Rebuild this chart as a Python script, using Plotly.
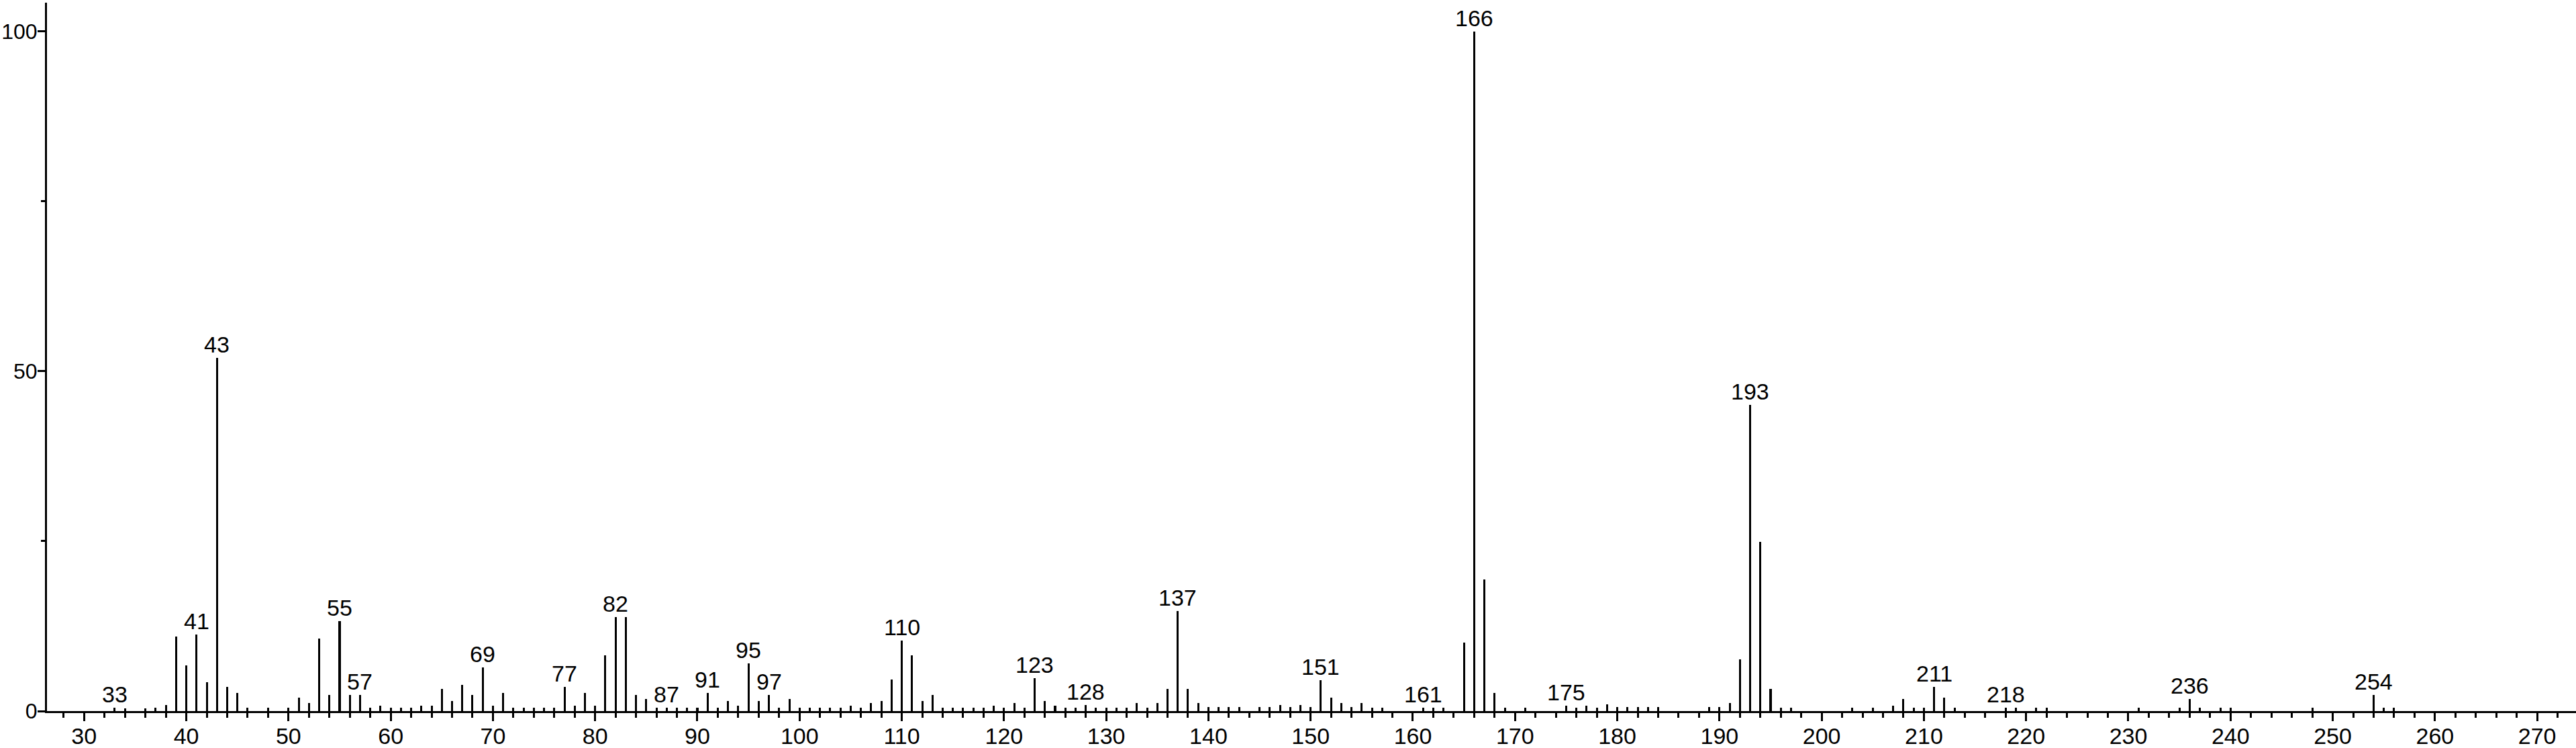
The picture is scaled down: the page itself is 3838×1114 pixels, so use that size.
import plotly.graph_objects as go

# m/z values and relative intensities (% of base peak 166)
mz = [
    33, 34, 36, 37, 38, 39, 40, 41, 42, 43, 44, 45, 46, 48, 50, 51, 52, 53, 54, 55,
    56, 57, 58, 59, 60, 61, 62, 63, 64, 65, 66, 67, 68, 69, 70, 71, 72, 73, 74, 75,
    76, 77, 78, 79, 80, 81, 82, 83, 84, 85, 86, 87, 88, 89, 90, 91, 92, 93, 94, 95,
    96, 97, 98, 99, 100, 101, 102, 103, 104, 105, 106, 107, 108, 109, 110, 111, 112, 113, 114, 115,
    116, 117, 118, 119, 120, 121, 122, 123, 124, 125, 126, 127, 128, 129, 130, 131, 132, 133, 134, 135,
    136, 137, 138, 139, 140, 141, 142, 143, 145, 146, 147, 148, 149, 150, 151, 152, 153, 154, 155, 156,
    157, 161, 162, 163, 165, 166, 167, 168, 169, 171, 175, 176, 177, 178, 179, 180, 181, 182, 183, 184,
    189, 190, 191, 192, 193, 194, 195, 196, 197, 203, 205, 207, 208, 209, 210, 211, 212, 213, 218, 219,
    221, 222, 231, 235, 236, 237, 239, 240, 248, 254, 255, 256,
]
intensity = [
    0.5, 0.4, 0.4, 0.5, 0.9, 11.0, 6.7, 11.3, 4.2, 52.0, 3.6, 2.7, 0.5, 0.5, 0.5, 2.0, 1.2, 10.7, 2.4, 13.2,
    2.4, 2.4, 0.5, 0.8, 0.5, 0.5, 0.5, 0.8, 0.8, 3.3, 1.5, 3.9, 2.4, 6.4, 0.8, 2.7, 0.5, 0.5, 0.5, 0.5,
    0.5, 3.6, 0.8, 2.7, 0.8, 8.2, 13.8, 13.8, 2.4, 1.8, 0.5, 0.5, 0.5, 0.5, 0.5, 2.7, 0.5, 1.5, 0.8, 7.0,
    1.5, 2.4, 0.5, 1.8, 0.5, 0.5, 0.5, 0.5, 0.5, 0.8, 0.5, 1.2, 1.5, 4.6, 10.4, 8.2, 1.5, 2.4, 0.5, 0.5,
    0.5, 0.5, 0.5, 0.8, 0.5, 1.2, 0.5, 4.8, 1.5, 0.8, 0.5, 0.5, 0.9, 0.5, 0.5, 0.5, 0.5, 1.2, 0.5, 1.2,
    3.3, 14.7, 3.3, 1.2, 0.6, 0.6, 0.6, 0.6, 0.6, 0.6, 0.9, 0.6, 0.9, 0.6, 4.5, 2.0, 1.2, 0.6, 1.2, 0.5,
    0.5, 0.5, 0.5, 0.5, 10.1, 100.0, 19.4, 2.7, 0.5, 0.5, 0.8, 0.5, 0.8, 0.5, 1.0, 0.6, 0.6, 0.6, 0.6, 0.6,
    0.6, 0.6, 1.2, 7.6, 45.0, 24.9, 3.3, 0.5, 0.5, 0.5, 0.5, 0.8, 1.8, 0.5, 0.5, 3.6, 2.0, 0.5, 0.5, 0.5,
    0.5, 0.5, 0.5, 0.5, 1.8, 0.5, 0.5, 0.5, 0.5, 2.4, 0.5, 0.5,
]

# peaks that carry an m/z label
labeled_peaks = [33, 41, 43, 55, 57, 69, 77, 82, 87, 91, 95, 97, 110, 123, 128,
                 137, 151, 161, 166, 175, 193, 211, 218, 236, 254]

x_ticks = list(range(30, 271, 10))
y_ticks = [0, 50, 100]

FONT = "Liberation Sans, Arial, Helvetica, sans-serif"

fig = go.Figure(go.Bar(
    x=mz,
    y=intensity,
    width=0.2,
    marker=dict(color="black", line=dict(width=0)),
    hoverinfo="x+y",
))

lookup = dict(zip(mz, intensity))
for m in labeled_peaks:
    fig.add_annotation(
        x=m, y=lookup[m], text=str(m),
        showarrow=False, yanchor="bottom", xanchor="center",
        font=dict(family=FONT, size=34, color="black"),
        yshift=-1,
    )

fig.update_layout(
    width=3838,
    height=1114,
    margin=dict(l=70, r=0, t=4, b=55, autoexpand=False),
    paper_bgcolor="white",
    plot_bgcolor="white",
    showlegend=False,
    bargap=0,
    font=dict(family=FONT, size=34, color="black"),
)

fig.update_xaxes(
    range=[26.37, 273.8],
    tickvals=x_ticks,
    ticks="outside", ticklen=12, tickwidth=3, tickcolor="black",
    minor=dict(dtick=2, tick0=0, ticks="outside", ticklen=7, tickwidth=3, tickcolor="black"),
    showline=True, linewidth=3, linecolor="black",
    showgrid=False, zeroline=False,
    automargin=False,
    ticklabelstandoff=-7,
    tickfont=dict(family=FONT, size=34, color="black"),
)

fig.update_yaxes(
    range=[0, 104.2],
    tickvals=y_ticks,
    ticks="outside", ticklen=11, tickwidth=3, tickcolor="black",
    minor=dict(tickvals=[25, 75], ticks="outside", ticklen=6, tickwidth=3, tickcolor="black"),
    showline=True, linewidth=3, linecolor="black",
    showgrid=False, zeroline=False,
    automargin=False,
    ticklabelstandoff=-6,
    tickfont=dict(family=FONT, size=32, color="black"),
)

# drop the browser's default page margin so the figure sits at the window origin
fig.write_html(
    "out.html",
    config={"displayModeBar": False},
    post_script="document.body.style.margin='0';",
)
